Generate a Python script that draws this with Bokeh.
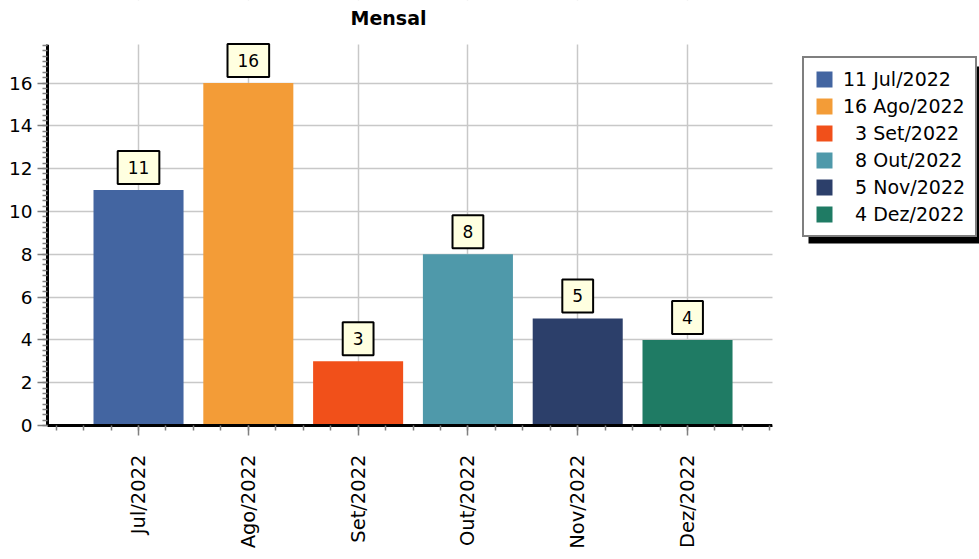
import numpy as np
from bokeh.plotting import figure
from bokeh.models import (Range1d, FixedTicker, SingleIntervalTicker, Label,
                          Legend, LegendItem, ColumnDataSource, BoxAnnotation)
from bokeh.embed import file_html
from bokeh.resources import INLINE

# ---- data ----
months = ["Jul/2022", "Ago/2022", "Set/2022", "Out/2022", "Nov/2022", "Dez/2022"]
values = [11, 16, 3, 8, 5, 4]
colors = ["#4365a1", "#f39c37", "#f1501a", "#4f99aa", "#2c3f6a", "#1f7b64"]
title_text = "Mensal"

FONT = "DejaVu Sans"
xs = list(range(len(months)))

# layout: the frame spans the whole canvas top/right; the axes are bounded
X_START, X_AXIS_END = -0.829, 5.774
AXIS_PX = 725
FRAME_W = 932
x_end_full = X_START + FRAME_W * (X_AXIS_END - X_START) / AXIS_PX
Y_END = 17.8
PLOT_H, TOP_PAD = 381, 44
FRAME_H = PLOT_H + TOP_PAD
y_end_full = Y_END * FRAME_H / PLOT_H

p = figure(frame_width=FRAME_W, frame_height=FRAME_H,
           min_border_left=47, min_border_top=0, min_border_right=0,
           min_border_bottom=128, title=None,
           x_range=Range1d(X_START, x_end_full), y_range=Range1d(0, y_end_full),
           output_backend="svg", toolbar_location=None)
p.outline_line_color = None
p.background_fill_color = "white"

# bars
renderers = []
for x, v, c in zip(xs, values, colors):
    src = ColumnDataSource(dict(x=[x], top=[v]))
    r = p.vbar(x="x", top="top", bottom=0, width=0.82, source=src,
               fill_color=c, line_color=None)
    renderers.append(r)

# axes
xax = p.xaxis[0]
minor = list(np.arange(-0.75, 5.76, 0.25))
xax.ticker = FixedTicker(ticks=xs, minor_ticks=minor)
xax.major_label_overrides = {x: m for x, m in zip(xs, months)}
xax.major_label_orientation = np.pi / 2
xax.bounds = (X_START, X_AXIS_END)
yax = p.yaxis[0]
yax.ticker = SingleIntervalTicker(interval=2, num_minor_ticks=8)
yax.bounds = (0, Y_END)
for ax in (xax, yax):
    ax.axis_line_width = 3
    ax.axis_line_color = "black"
    ax.major_tick_out = 10
    ax.major_tick_in = 0
    ax.minor_tick_out = 5
    ax.minor_tick_in = 0
    ax.major_tick_line_color = "#808080"
    ax.minor_tick_line_color = "#808080"
    ax.major_tick_line_width = 1.5
    ax.minor_tick_line_width = 1.5
    ax.major_label_text_font = FONT
    ax.major_label_text_color = "black"
xax.major_label_text_font_size = "19.5px"
yax.major_label_text_font_size = "18.5px"
xax.major_label_standoff = 19
yax.major_label_standoff = 5

for g in (p.xgrid[0], p.ygrid[0]):
    g.grid_line_color = "#c8c8c8"
    g.grid_line_width = 1.5

# blank the frame outside the plotting region (right: legend area, top: title area)
p.add_layout(BoxAnnotation(left=X_AXIS_END, fill_color="white", fill_alpha=1.0,
                           line_color=None))
p.add_layout(BoxAnnotation(bottom=Y_END, fill_color="white", fill_alpha=1.0,
                           line_color=None))

# title
p.add_layout(Label(x=341, y=FRAME_H - 17, x_units="screen", y_units="screen",
                   text=title_text, text_align="center", text_baseline="middle",
                   text_font=FONT, text_font_size="19px", text_font_style="bold",
                   text_color="black"))

# value labels
for x, v in zip(xs, values):
    p.add_layout(Label(x=x, y=v, text=str(v), text_align="center",
                       text_baseline="bottom", y_offset=6,
                       text_font=FONT, text_font_size="17px",
                       text_color="black",
                       background_fill_color="#ffffe0",
                       border_line_color="black", border_line_width=2,
                       padding=(10, 10)))

# legend shadow (screen units, relative to the frame)
LEG_X, LEG_Y, LEG_W, LEG_H, SH = 755, 188, 172, 177, 6
p.add_layout(BoxAnnotation(left=LEG_X + SH, right=LEG_X + SH + LEG_W,
                           bottom=LEG_Y - SH, top=LEG_Y - SH + LEG_H,
                           left_units="screen", right_units="screen",
                           bottom_units="screen", top_units="screen",
                           fill_color="black", fill_alpha=1.0, line_color=None))

labels = [f"{v:\u2007>2} {m}" for v, m in zip(values, months)]
items = [LegendItem(label=l, renderers=[r]) for l, r in zip(labels, renderers)]
legend = Legend(items=items, location=(LEG_X, LEG_Y), padding=10, spacing=5,
                glyph_width=20, glyph_height=20, label_standoff=9,
                label_text_font=FONT, label_text_font_size="19px",
                label_text_color="black",
                border_line_color="black", border_line_width=2,
                background_fill_color="white", background_fill_alpha=1.0,
                margin=0)
p.add_layout(legend, "center")

open("out.html", "w").write(file_html(p, INLINE))
